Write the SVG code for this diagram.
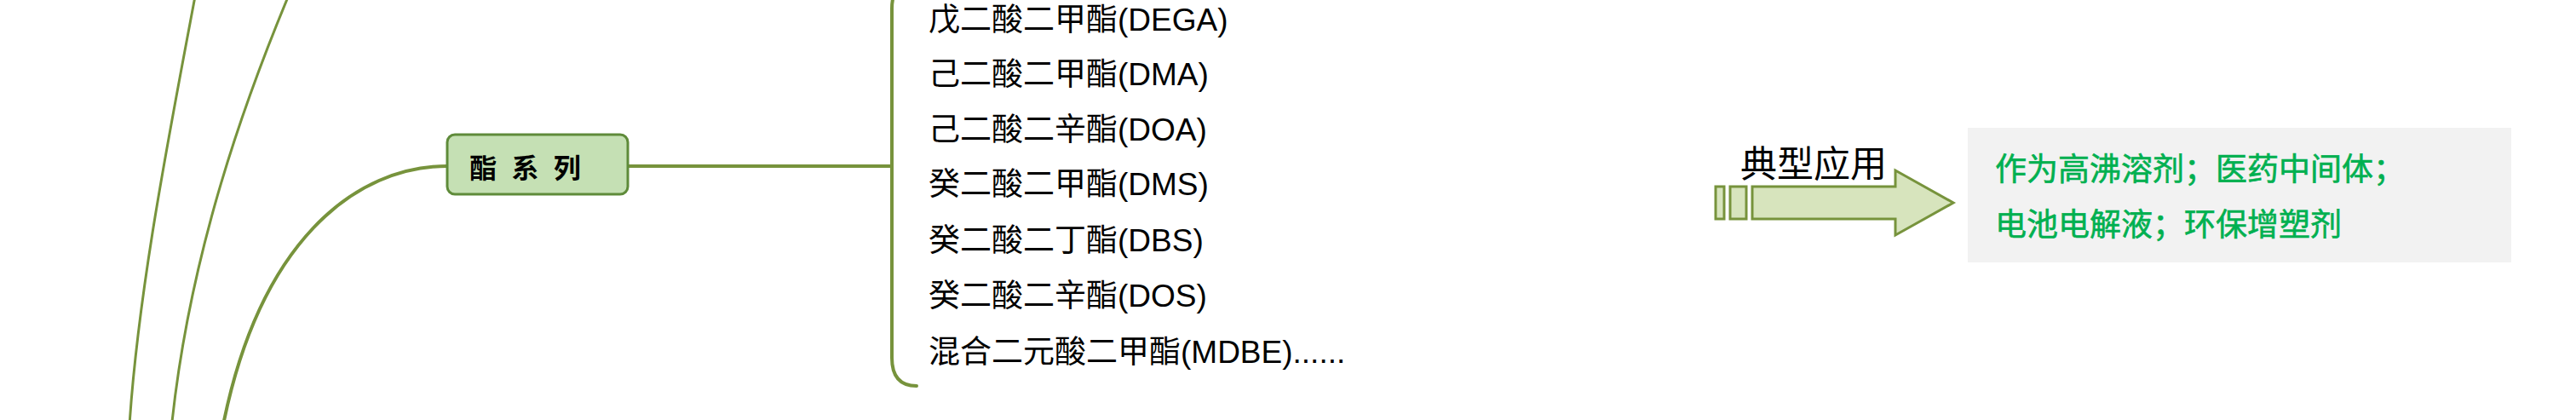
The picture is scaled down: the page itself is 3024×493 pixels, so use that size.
<svg xmlns="http://www.w3.org/2000/svg" width="3024" height="493" viewBox="0 0 3024 493">
<style>
.cn{fill:none;stroke:#77933c;stroke-linecap:round}
.item{font-family:"Liberation Sans","Noto Sans CJK SC",sans-serif;font-size:37px;fill:#000}
.app{font-family:"Liberation Sans","Noto Sans CJK SC",sans-serif;font-size:37px;fill:#00b050;stroke:#00b050;stroke-width:0.6}
</style>
<rect width="3024" height="493" fill="#fff"/>
<g id="connectors">
<path class="cn" stroke-width="3" d="M232 -20 C200 150 160 350 151 515"/>
<path class="cn" stroke-width="3" d="M345 -20 C290 110 220 300 200 515"/>
<path class="cn" stroke-width="4" d="M525 195 C420 195 300 280 258 520"/>
<path class="cn" stroke-width="4" d="M737 195 L1047 195"/>
<path class="cn" stroke-width="4" d="M1076 -22 Q1047 -22 1047 10 L1047 420 Q1047 453 1076 453"/>
</g>
<g id="node-ester">
<rect x="525" y="158" width="212" height="70" rx="9" fill="#c5e0b4" stroke="#5f8b3a" stroke-width="3"/>
<text x="619" y="209" text-anchor="middle" font-family="'Noto Sans CJK SC',sans-serif" font-size="32" font-weight="bold" letter-spacing="5" fill="#000">酯 系 列</text>
</g>
<g id="list">
<text class="item" x="1090" y="36">戊二酸二甲酯(DEGA)</text>
<text class="item" x="1090" y="100">己二酸二甲酯(DMA)</text>
<text class="item" x="1090" y="165">己二酸二辛酯(DOA)</text>
<text class="item" x="1090" y="229">癸二酸二甲酯(DMS)</text>
<text class="item" x="1090" y="295">癸二酸二丁酯(DBS)</text>
<text class="item" x="1090" y="360">癸二酸二辛酯(DOS)</text>
<text class="item" x="1090" y="426">混合二元酸二甲酯(MDBE)......</text>
</g>
<g id="arrow">
<rect x="2014" y="219" width="10" height="38" fill="#d7e4bd" stroke="#77933c" stroke-width="3"/>
<rect x="2031" y="219" width="19" height="38" fill="#d7e4bd" stroke="#77933c" stroke-width="3"/>
<path d="M2057 219 L2225 219 L2225 200 L2293 238 L2225 276 L2225 257 L2057 257 Z" fill="#d7e4bd" stroke="#77933c" stroke-width="3" stroke-linejoin="miter"/>
<text x="2043" y="208" font-family="'Noto Sans CJK SC',sans-serif" font-size="43" fill="#000">典型应用</text>
</g>
<g id="app-box">
<rect x="2310" y="150" width="638" height="158" fill="#f2f2f2"/>
<text class="app" x="2342" y="212">作为高沸溶剂；医药中间体；</text>
<text class="app" x="2342" y="277">电池电解液；环保增塑剂</text>
</g>
</svg>
